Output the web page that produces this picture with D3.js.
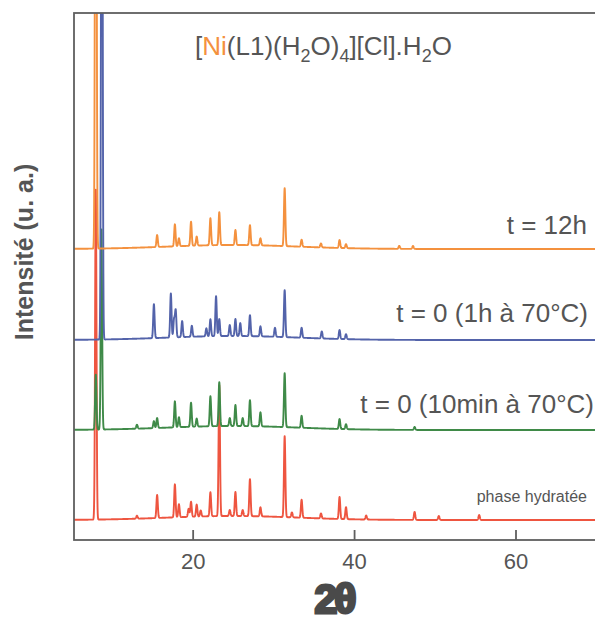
<!DOCTYPE html>
<html>
<head>
<meta charset="utf-8">
<script src="https://cdn.jsdelivr.net/npm/d3@7"></script>
<style>
  html, body { margin: 0; padding: 0; background: #fff; }
  svg { display: block; font-family: "Liberation Sans", Arial, Helvetica, sans-serif; }
</style>
</head>
<body>
<svg id="chart" width="595" height="622"></svg>
<script>
// ---- Data ----
// 2θ range of the patterns (degrees)
const thetaRange = [5.3, 70];
const xTicks = [20, 40, 60];

// Series names, label texts and colours (drawn bottom to top)
const seriesNames = ["phase hydratée", "t = 0 (10min à 70°C)", "t = 0 (1h à 70°C)", "t = 12h"];
const seriesColors = ["#ee5540", "#3f8a48", "#5363aa", "#f4913e"];
// vertical offset of each pattern (arbitrary intensity units)
const seriesOffsets = [20, 110, 200, 291];
// broad amorphous background hump: [centre 2θ, amplitude, width]
const humps = [[25, 4, 8], [25, 4, 8], [25, 4, 8], [25, 4, 8]];

// Reflections: [2θ, height above background]
const peaksHydrated = [
  [8.0, 330], [13.1, 3], [15.6, 23], [17.8, 33], [18.3, 13], [19.5, 8], [19.8, 15],
  [20.5, 12], [21.0, 6], [22.2, 24], [23.3, 131], [24.6, 6], [25.3, 24], [26.2, 6],
  [27.1, 37], [28.4, 9], [31.4, 81], [32.3, 5], [33.5, 18], [35.9, 5], [38.2, 22],
  [39.0, 12], [41.5, 4], [47.5, 8], [50.5, 4], [55.5, 5]
];
const peaks10min = [
  [8.0, 55], [8.7, 200], [13.1, 4], [15.2, 7], [15.6, 10], [17.8, 26], [18.3, 10],
  [19.8, 24], [20.5, 8], [22.2, 30], [23.3, 44], [24.6, 8], [25.3, 21], [26.2, 8],
  [27.1, 26], [28.4, 14], [31.4, 54], [33.5, 12], [38.2, 10], [39.0, 5], [47.5, 3]
];
const peaks1h = [
  [8.75, 800], [15.2, 34], [17.3, 44], [17.7, 18], [17.9, 27], [18.7, 16], [19.9, 11],
  [21.7, 8], [22.2, 17], [22.9, 40], [23.3, 17], [24.6, 11], [25.3, 17], [25.9, 13],
  [27.1, 21], [28.4, 10], [30.2, 9], [31.4, 47], [33.5, 10], [36.0, 7], [38.2, 9], [39.0, 5]
];
const peaks12h = [
  [8.0, 800], [15.6, 12], [17.8, 22], [18.3, 8], [19.8, 24], [20.5, 9], [22.2, 27],
  [23.3, 33], [25.3, 15], [27.1, 20], [28.4, 7], [31.4, 58], [33.5, 7], [35.9, 4],
  [38.2, 8], [39.0, 4], [45.6, 3], [47.3, 3]
];
const seriesPeaks = [peaksHydrated, peaks10min, peaks1h, peaks12h];
const peakSigma = 0.085;

const titleParts = [
  {t: "[", c: "#555"}, {t: "Ni", c: "#f4913e"}, {t: "(L1)(H", c: "#555"}, {t: "2", c: "#555", sub: true},
  {t: "O)", c: "#555"}, {t: "4", c: "#555", sub: true}, {t: "][Cl].H", c: "#555"},
  {t: "2", c: "#555", sub: true}, {t: "O", c: "#555"}
];

// ---- Layout ----
const plot = {left: 74, right: 595, top: 13, bottom: 540};
const svg = d3.select("#chart");
const textColor = "#555";

const x = d3.scaleLinear().domain([5.3, 69.85]).range([plot.left, plot.right]);
const y = d3.scaleLinear().domain([0, plot.bottom - plot.top]).range([plot.bottom, plot.top]);

svg.append("defs").append("clipPath").attr("id", "clip")
  .append("rect").attr("x", plot.left).attr("y", plot.top)
  .attr("width", plot.right - plot.left + 10).attr("height", plot.bottom - plot.top);

// profile built from the reflection list
function profile(peaks, offset, hump) {
  const pts = [];
  const n = Math.round((thetaRange[1] - thetaRange[0]) / 0.02);
  for (let i = 0; i <= n; i++) {
    const t = thetaRange[0] + i * 0.02;
    let v = offset + hump[1] * Math.exp(-0.5 * Math.pow((t - hump[0]) / hump[2], 2));
    for (const [p, h] of peaks) {
      const d = (t - p) / peakSigma;
      if (Math.abs(d) < 8) v += h * Math.exp(-0.5 * d * d);
    }
    pts.push([t, v]);
  }
  return pts;
}

const line = d3.line().x(d => x(d[0])).y(d => y(d[1]));
const g = svg.append("g").attr("clip-path", "url(#clip)");
seriesPeaks.forEach((pk, i) => {
  g.append("path")
    .datum(profile(pk, seriesOffsets[i], humps[i]))
    .attr("fill", "none")
    .attr("stroke", seriesColors[i])
    .attr("stroke-width", 1.9)
    .attr("stroke-linejoin", "round")
    .attr("d", line);
});

// frame
svg.append("rect")
  .attr("x", plot.left).attr("y", plot.top)
  .attr("width", plot.right - plot.left + 5).attr("height", plot.bottom - plot.top)
  .attr("fill", "none").attr("stroke", "#5f5f5f").attr("stroke-width", 1.8);

// x axis (ticks inside)
const xAxis = d3.axisBottom(x).tickValues(xTicks).tickSize(-10).tickPadding(24).tickFormat(d3.format("d"));
const ax = svg.append("g").attr("transform", `translate(0,${plot.bottom})`).call(xAxis);
ax.select(".domain").remove();
ax.selectAll(".tick line").attr("stroke", "#5f5f5f").attr("stroke-width", 1.8);
ax.selectAll(".tick text").attr("fill", textColor).attr("font-size", 22)
  .attr("font-family", "Liberation Sans, Arial, sans-serif").attr("dy", "0.71em").attr("y", 13);

// x label
svg.append("text").attr("x", 334).attr("y", 613).attr("text-anchor", "middle")
  .attr("font-size", 41).attr("font-weight", 900).attr("letter-spacing", -3)
  .attr("fill", "#4a4a4a").attr("stroke", "#4a4a4a").attr("stroke-width", 3)
  .text("2θ");

// y label
svg.append("text").attr("transform", "translate(33,252) rotate(-90)")
  .attr("text-anchor", "middle").attr("font-size", 25).attr("font-weight", "bold")
  .attr("fill", textColor).text("Intensité (u. a.)");

// title
const title = svg.append("text").attr("x", 195).attr("y", 55).attr("font-size", 26).attr("fill", textColor);
titleParts.forEach((p, i) => {
  const prev = i > 0 ? titleParts[i - 1] : null;
  const ts = title.append("tspan").attr("fill", p.c).text(p.t);
  if (p.sub) ts.attr("font-size", 18).attr("dy", 7);
  else if (prev && prev.sub) ts.attr("dy", -7);
});

// series labels
const labelPos = [[587, 502, 16], [594, 413, 26], [588, 322, 26], [587, 234, 26]];
seriesNames.forEach((s, i) => {
  svg.append("text").attr("x", labelPos[i][0]).attr("y", labelPos[i][1])
    .attr("text-anchor", "end").attr("font-size", labelPos[i][2]).attr("fill", textColor).text(s);
});
</script>
</body>
</html>
